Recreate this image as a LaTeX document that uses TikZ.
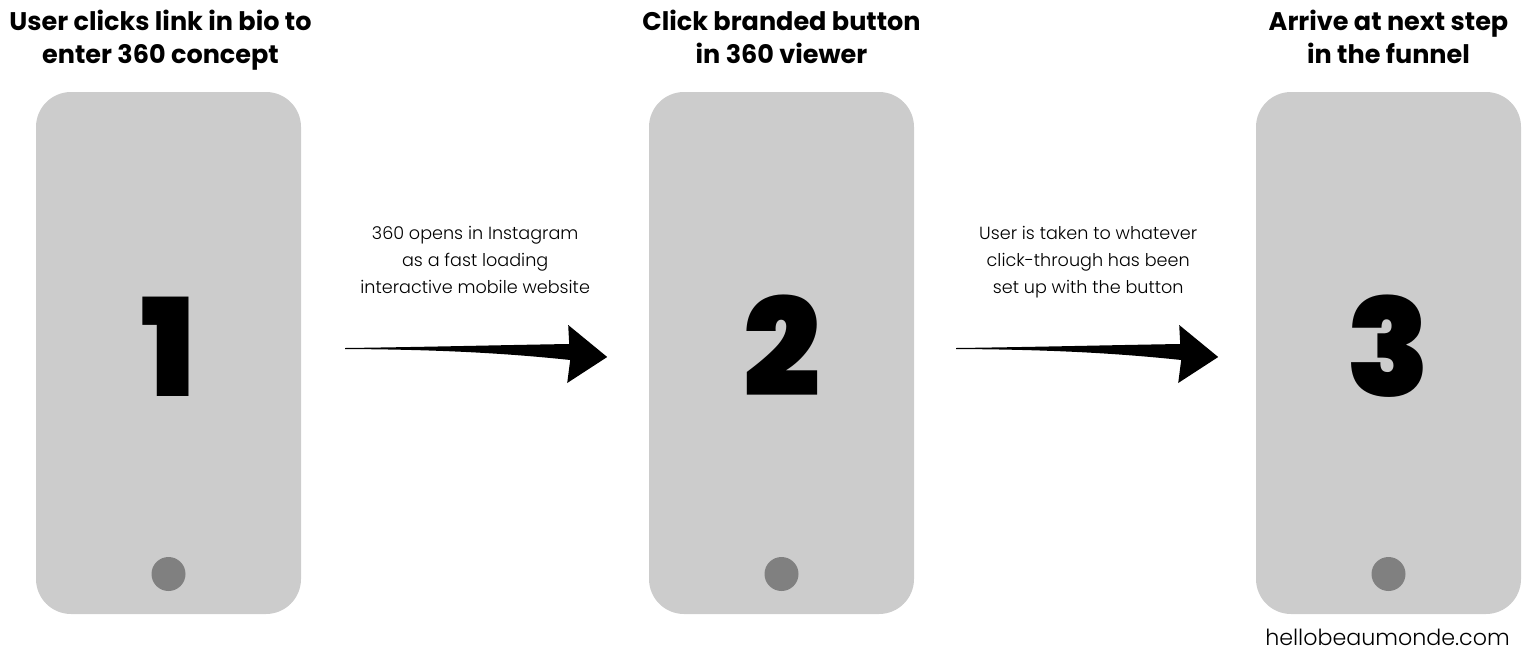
\documentclass[tikz,border=0pt]{standalone}
\usepackage{fontspec}
\setmainfont{Poppins}
\newfontface\lightfont{Poppins Light}
\newfontface\heavyfont{Poppins Black}
\usetikzlibrary{positioning,calc}

\definecolor{phonegray}{HTML}{CCCCCC}
\definecolor{buttongray}{HTML}{808080}

\tikzset{
  phone/.style={fill=phonegray, rounded corners=35pt, minimum width=265pt,
    minimum height=522pt, inner sep=0pt},
  homebtn/.style={circle, fill=buttongray, minimum size=34pt, inner sep=0pt},
  stepno/.style={anchor=base, inner sep=0pt,
    font=\heavyfont\fontsize{136}{136}\selectfont},
  heading/.style={anchor=base, align=center, inner sep=0pt,
    font=\bfseries\fontsize{25.5}{33}\selectfont},
  note/.style={anchor=base, align=center, inner sep=0pt,
    font=\lightfont\fontsize{17.6}{27}\selectfont},
  bigarrow/.pic={
    \fill (0,0) .. controls (80,-1) and (160,-3) .. (224,-4) -- (223,-23)
      -- (262,9) -- (222,35) -- (225,12)
      .. controls (150,4) and (80,1.5) .. (0,1) -- cycle;
  }
}

\begin{document}
\begin{tikzpicture}[x=1pt,y=-1pt]
\useasboundingbox (0,0) rectangle (1534,659);

% phones
\node[phone] (phone1) at (168.5,353) {};
\node[phone] (phone2) at (781.5,353) {};
\node[phone] (phone3) at (1388.5,353) {};

\foreach \i in {1,2,3} {
  \node[homebtn] (btn\i) at ($(phone\i.center)+(0,221)$) {};
  \node[stepno] (num\i) at ($(phone\i.center)+(0,43)$) {\i};
}

% headings
\node[heading] (head1) at ($(phone1.north)+(-8,-28)$) {User clicks link in bio to\\enter 360 concept};
\node[heading] (head2) at ($(phone2.north)+(0,-28)$) {Click branded button\\in 360 viewer};
\node[heading] (head3) at ($(phone3.north)+(0,-28)$) {Arrive at next step\\in the funnel};

% arrows between the phones
\coordinate (a1) at ($(phone1.east)+(44,-5)$);
\coordinate (a2) at ($(phone2.east)+(42,-5)$);
\pic at (a1) {bigarrow};
\pic at (a2) {bigarrow};

\node[note] (note1) at ($(a1)+(130,-55)$) {360 opens in Instagram\\as a fast loading\\interactive mobile website};
\node[note] (note2) at ($(a2)+(132,-55)$) {User is taken to whatever\\click-through has been\\set up with the button};

\node[anchor=base, inner sep=0pt, font=\lightfont\fontsize{22.2}{22.2}\selectfont]
  (site) at ($(phone3.south)+(-1,31)$) {hellobeaumonde.com};
\end{tikzpicture}
\end{document}
